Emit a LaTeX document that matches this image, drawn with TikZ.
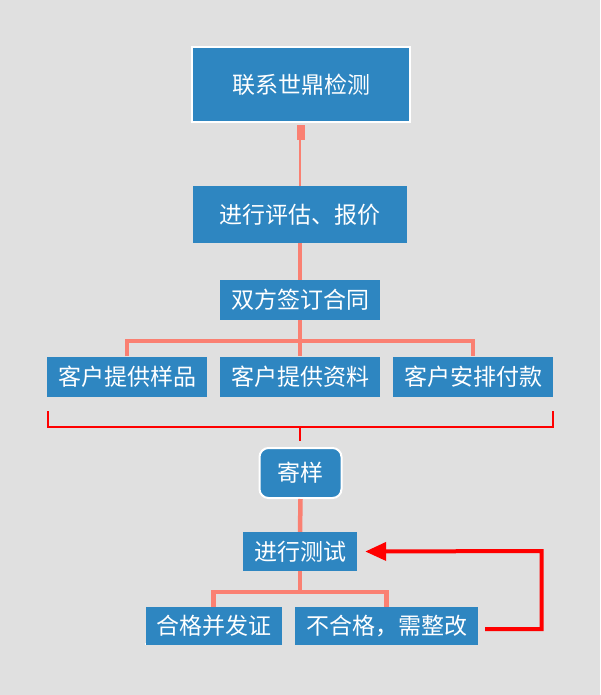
\documentclass[tikz,border=0pt]{standalone}
\usepackage{fontspec}
\setmainfont{Noto Sans CJK SC}
\usetikzlibrary{arrows.meta,calc}
\definecolor{bg}{HTML}{E0E0E0}
\definecolor{boxblue}{HTML}{2E86C1}
\definecolor{salmon}{HTML}{FA8072}
\definecolor{brred}{HTML}{FF0000}
\tikzset{
  box/.style={fill=boxblue, text=white, inner sep=0pt, font=\fontsize{23}{27}\selectfont,
    append after command={\pgfextra{\draw[white, line width=2pt] ($(\tikzlastnode.south west)+(0,-1)$) -- ($(\tikzlastnode.south east)+(0,-1)$);}}},
  framedbox/.style={fill=boxblue, text=white, inner sep=0pt, draw=white, line width=2pt, font=\fontsize{23}{27}\selectfont},
  tree/.style={salmon, line width=4.5pt},
  thinline/.style={salmon, line width=2pt},
  bracket/.style={brred, line width=2pt},
  back/.style={brred, line width=4pt, -{Triangle[length=21pt,width=18pt]}}
}
\begin{document}
\begin{tikzpicture}[x=1pt,y=-1pt]
\fill[bg] (0,0) rectangle (600,695);
\useasboundingbox (0,0) rectangle (600,695);
% nodes
\node[framedbox, minimum width=218, minimum height=75] (contact) at (301,84.5) {联系世鼎检测};
\node[box, minimum width=214, minimum height=57] (eval) at (300,214.5) {进行评估、报价};
\node[box, minimum width=160, minimum height=40] (sign) at (300,300) {双方签订合同};
\node[box, minimum width=160, minimum height=40] (sample) at (127,376.5) {客户提供样品};
\node[box, minimum width=160, minimum height=40] (data) at (300,376.5) {客户提供资料};
\node[box, minimum width=160, minimum height=40] (pay) at (473,376.5) {客户安排付款};
\node[framedbox, rounded corners=9pt, minimum width=82, minimum height=50] (send) at (300.5,473) {寄样};
\node[box, minimum width=114, minimum height=39] (test) at (300,551.5) {进行测试};
\node[box, minimum width=136, minimum height=38] (pass) at (213.5,626) {合格并发证};
\node[box, minimum width=183, minimum height=38] (fail) at (386.5,626) {不合格，需整改};
% connectors
\fill[salmon] ($(contact.south)+(-4,2)$) rectangle ($(contact.south)+(4,17)$);
\draw[thinline] ($(contact.south)+(-1,2)$) -- ($(eval.north)+(0,0)$);
\draw[tree] (eval.south) -- (sign.north);
\coordinate (signbar) at ($(sign.south)+(0,20.6)$);
\draw[tree] (sign.south) -- (signbar);
\draw[tree] (sample.north) |- (signbar) -| (pay.north);
\draw[tree] (signbar) -- (data.north);
% bracket
\coordinate (bl) at (47.5,411);
\coordinate (br) at (553,411);
\coordinate (bm) at (300,427);
\draw[bracket] (bl) |- (bm) -| (br);
\draw[bracket] (bm) -- ($(bm)+(0,14)$);
% lower part
\draw[tree] (send.south) -- (test.north);
\coordinate (testbar) at ($(test.south)+(0,21)$);
\draw[tree] (test.south) -- (testbar);
\draw[tree] (pass.north) |- (testbar) -| (fail.north);
\coordinate (loop) at (541.7,551);
\draw[back] ($(fail.east)+(7,3)$) -| (loop) -- ($(test.east)+(8,0)$);
\end{tikzpicture}
\end{document}
